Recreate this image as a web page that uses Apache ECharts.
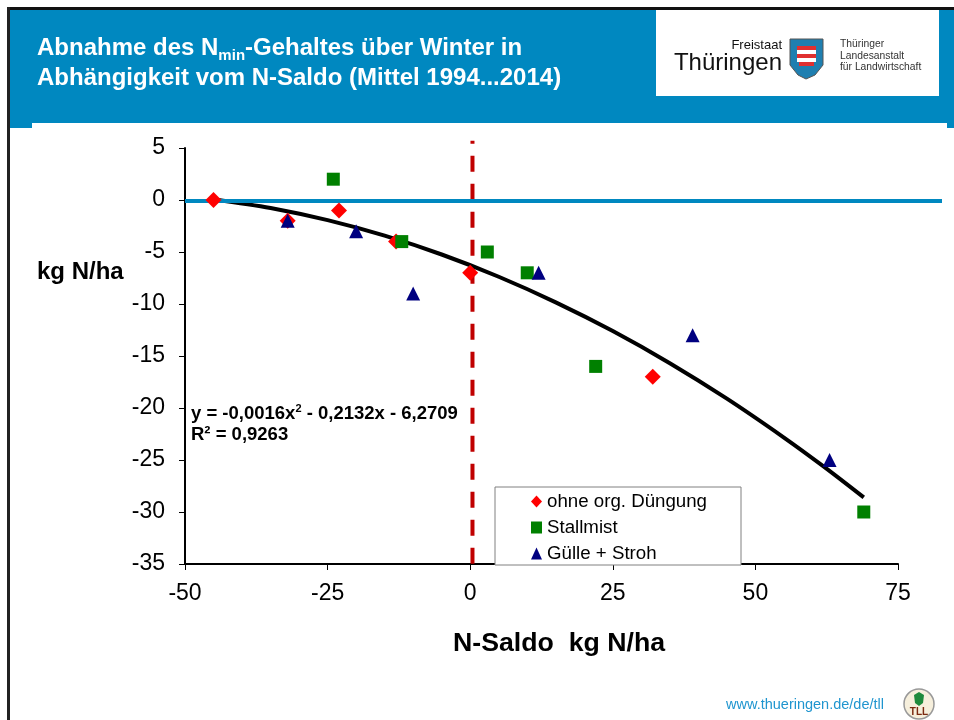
<!DOCTYPE html>
<html>
<head>
<meta charset="utf-8">
<title>Abnahme des Nmin-Gehaltes</title>
<style>
  html, body { margin: 0; padding: 0; background: #fff; }
  #chart { width: 954px; height: 720px; }
</style>
<script src="https://cdn.jsdelivr.net/npm/echarts@6/dist/echarts.min.js"></script>
</head>
<body>
<div id="chart"></div>
<script>
// [N-Saldo, Nmin change]
var ohneDuengung = [[-45, 0], [-32, -2], [-23, -1], [-13, -4], [0, -7], [32, -17]];
var stallmist = [[-24, 2], [-12, -4], [3, -5], [10, -7], [22, -16], [69, -30]];
var guelleStroh = [[-32, -2], [-20, -3], [-10, -9], [12, -7], [39, -13], [63, -25]];
var trendPoints = [[-45, 0.08], [-35, -0.77], [-25, -1.94], [-15, -3.43], [-5, -5.24], [5, -7.38], [15, -9.84], [25, -12.6], [35, -15.69], [45, -19.1], [55, -22.84], [62, -25.64], [69, -28.6]];
var zeroLine = [[-50, -0.1], [82.8, -0.1]];
var saldoZero = [[0.4, 5.7], [0.4, -35]];

var FONT = "'Liberation Sans', Arial, sans-serif";
var BLUE = "#0088c0";

var chart = echarts.init(document.getElementById("chart"));

chart.setOption({
  animation: false,
  backgroundColor: "#fff",
  title: {
    left: 32,
    top: 28,
    text: "{t|Abnahme des N}{s|min}{t|-Gehaltes über Winter in}\n{t|Abhängigkeit vom N-Saldo (Mittel 1994...2014)}",
    textStyle: {
      rich: {
        t: { fontFamily: FONT, fontSize: 24, fontWeight: "bold", color: "#fff", lineHeight: 30 },
        s: { fontFamily: FONT, fontSize: 15, fontWeight: "bold", color: "#fff", lineHeight: 30, verticalAlign: "bottom", padding: [7, 0, 0, 0] },
      },
    },
  },
  // second grid only carries the zero line, which runs past the plot
  grid: [
    { left: 185, right: 56, top: 148, bottom: 156 },
    { left: 185, right: 12, top: 148, bottom: 156 },
  ],
  legend: {
    left: 495,
    top: 487,
    orient: "vertical",
    padding: [5, 34, 2, 36],
    itemWidth: 11,
    itemHeight: 12,
    itemGap: 7,
    borderColor: "#808080",
    borderWidth: 1,
    backgroundColor: "#fff",
    z: 10,
    textStyle: { fontFamily: FONT, fontSize: 18.7, color: "#000" },
    data: [
      { name: "ohne org. Düngung", icon: "diamond" },
      { name: "Stallmist", icon: "rect" },
      { name: "Gülle + Stroh", icon: "triangle" },
    ],
  },
  xAxis: [
    {
      type: "value",
      min: -50,
      max: 75,
      interval: 25,
      name: "N-Saldo  kg N/ha",
      nameLocation: "middle",
      nameGap: 66,
      nameTextStyle: { fontFamily: FONT, fontSize: 26.7, fontWeight: "bold", color: "#000", padding: [0, 0, 0, 35] },
      splitLine: { show: false },
      axisLine: { onZero: false, lineStyle: { color: "#000", width: 2 } },
      axisTick: { length: 6, lineStyle: { color: "#000", width: 1 } },
      axisLabel: { fontFamily: FONT, fontSize: 23, color: "#000", margin: 18 },
    },
    { type: "value", gridIndex: 1, min: -50, max: 82.8, show: false, splitLine: { show: false } },
  ],
  yAxis: [
    {
      type: "value",
      min: -35,
      max: 5,
      interval: 5,
      splitLine: { show: false },
      axisLine: { onZero: false, lineStyle: { color: "#000", width: 2 } },
      axisTick: { length: 6, lineStyle: { color: "#000", width: 1 } },
      axisLabel: { fontFamily: FONT, fontSize: 23, color: "#000", margin: 20, padding: [4, 0, 0, 0] },
    },
    { type: "value", gridIndex: 1, min: -35, max: 5, show: false, splitLine: { show: false } },
  ],
  series: [
    {
      type: "line",
      name: "Trend",
      data: trendPoints,
      smooth: 0.3,
      showSymbol: false,
      silent: true,
      z: 3,
      lineStyle: { color: "#000", width: 4 },
    },
    {
      type: "line",
      name: "Null",
      xAxisIndex: 1,
      yAxisIndex: 1,
      data: zeroLine,
      showSymbol: false,
      silent: true,
      z: 4,
      lineStyle: { color: BLUE, width: 4 },
    },
    {
      type: "line",
      name: "Saldo 0",
      data: saldoZero,
      clip: false,
      showSymbol: false,
      silent: true,
      z: 2,
      lineStyle: { color: "#c00000", width: 4, type: [16, 12], dashOffset: 13 },
    },
    {
      type: "scatter",
      name: "ohne org. Düngung",
      data: ohneDuengung,
      symbol: "diamond",
      symbolSize: 16,
      z: 5,
      itemStyle: { color: "#ff0000", opacity: 1 },
    },
    {
      type: "scatter",
      name: "Stallmist",
      data: stallmist,
      symbol: "rect",
      symbolSize: 13,
      z: 6,
      itemStyle: { color: "#008000", opacity: 1 },
    },
    {
      type: "scatter",
      name: "Gülle + Stroh",
      data: guelleStroh,
      symbol: "triangle",
      symbolSize: 14,
      z: 7,
      itemStyle: { color: "#000080", opacity: 1 },
    },
  ],
  graphic: [
    // slide frame and header band
    { type: "rect", z: -10, shape: { x: 7, y: 7, width: 947, height: 3 }, style: { fill: "#111" } },
    { type: "rect", z: -10, shape: { x: 7, y: 7, width: 3, height: 713 }, style: { fill: "#222" } },
    { type: "rect", z: -9, shape: { x: 10, y: 10, width: 944, height: 113 }, style: { fill: BLUE } },
    { type: "rect", z: -9, shape: { x: 10, y: 123, width: 22, height: 5 }, style: { fill: BLUE } },
    { type: "rect", z: -9, shape: { x: 947, y: 123, width: 7, height: 5 }, style: { fill: BLUE } },
    // logo
    { type: "rect", z: -8, shape: { x: 656, y: 10, width: 283, height: 86 }, style: { fill: "#fff" } },
    { type: "text", z: -7, x: 782, y: 45, style: { text: "Freistaat", fontFamily: FONT, fontSize: 13, fill: "#111", align: "right", verticalAlign: "middle" } },
    { type: "text", z: -7, x: 782, y: 63, style: { text: "Thüringen", fontFamily: FONT, fontSize: 24, fill: "#111", align: "right", verticalAlign: "middle" } },
    { type: "polygon", z: -7, shape: { points: [[790, 39], [823, 39], [823, 65], [815, 75], [806, 79], [798, 75], [790, 65]] }, style: { fill: "#1f7fb0", stroke: "#555", lineWidth: 1 } },
    { type: "rect", z: -6, shape: { x: 797, y: 46, width: 19, height: 4 }, style: { fill: "#e03030" } },
    { type: "rect", z: -6, shape: { x: 797, y: 50, width: 19, height: 4 }, style: { fill: "#fff" } },
    { type: "rect", z: -6, shape: { x: 797, y: 54, width: 19, height: 4 }, style: { fill: "#e03030" } },
    { type: "rect", z: -6, shape: { x: 797, y: 58, width: 19, height: 4 }, style: { fill: "#fff" } },
    { type: "rect", z: -6, shape: { x: 799, y: 62, width: 15, height: 4 }, style: { fill: "#e03030" } },
    { type: "text", z: -7, x: 840, y: 44, style: { text: "Thüringer", fontFamily: FONT, fontSize: 10.3, fill: "#333", verticalAlign: "middle" } },
    { type: "text", z: -7, x: 840, y: 56, style: { text: "Landesanstalt", fontFamily: FONT, fontSize: 10.3, fill: "#333", verticalAlign: "middle" } },
    { type: "text", z: -7, x: 840, y: 67, style: { text: "für Landwirtschaft", fontFamily: FONT, fontSize: 10.3, fill: "#333", verticalAlign: "middle" } },
    // chart annotations
    { type: "text", z: 8, x: 37, y: 272, style: { text: "kg N/ha", fontFamily: FONT, fontSize: 24, fontWeight: "bold", fill: "#000", verticalAlign: "middle" } },
    {
      type: "text", z: 8, x: 191, y: 424,
      style: {
        text: "{e|y = -0,0016x}{u|2}{e| - 0,2132x - 6,2709}\n{e|R² = 0,9263}",
        fill: "#000",
        verticalAlign: "middle",
        rich: {
          e: { fontFamily: FONT, fontSize: 18.5, fontWeight: "bold", fill: "#000", lineHeight: 21 },
          u: { fontFamily: FONT, fontSize: 11, fontWeight: "bold", fill: "#000", lineHeight: 21, verticalAlign: "top" },
        },
      },
    },
    // footer
    { type: "text", z: 8, x: 884, y: 705, style: { text: "www.thueringen.de/de/tll", fontFamily: FONT, fontSize: 14.5, fill: "#1f95cf", align: "right", verticalAlign: "middle" } },
    { type: "circle", z: 8, shape: { cx: 919, cy: 704, r: 15 }, style: { fill: "#f6efdc", stroke: "#999", lineWidth: 1.5 } },
    { type: "polygon", z: 9, shape: { points: [[914, 695], [919, 692], [924, 695], [923, 703], [919, 706], [915, 703]] }, style: { fill: "#1e8a3c" } },
    { type: "text", z: 9, x: 919, y: 712, style: { text: "TLL", fontFamily: FONT, fontSize: 10, fontWeight: "bold", fill: "#7a2a10", align: "center", verticalAlign: "middle" } },
  ],
});
</script>
</body>
</html>
